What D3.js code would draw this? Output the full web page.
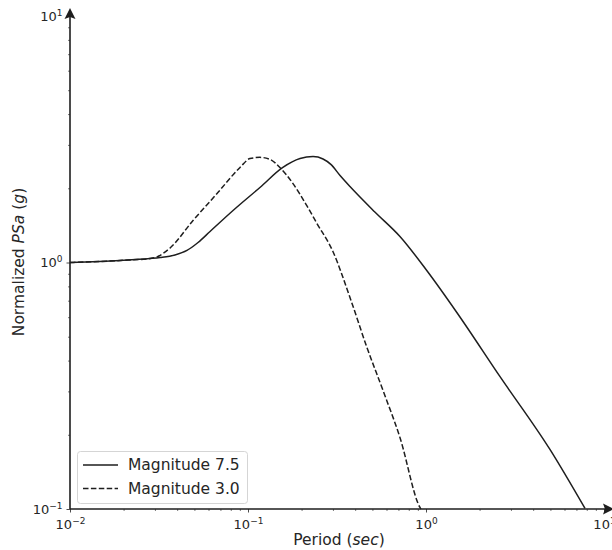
<!DOCTYPE html>
<html>
<head>
<meta charset="utf-8">
<script src="https://cdn.jsdelivr.net/npm/d3@7"></script>
<style>
  body { margin: 0; background: #fff; }
  svg { display: block; }
  text { font-family: "DejaVu Sans", sans-serif; fill: #262626; }
</style>
</head>
<body>
<svg id="chart" width="612" height="550"></svg>
<script>
// ---- data ----
const periodM75 = [0.01, 0.0191, 0.0281, 0.0321, 0.0389, 0.0454, 0.0524, 0.0612, 0.0824, 0.1167, 0.157, 0.196, 0.232, 0.264, 0.292, 0.329, 0.374, 0.516, 0.714, 1.01, 1.49, 2.60, 4.98, 7.82];
const psaM75    = [1.00, 1.019, 1.038, 1.048, 1.073, 1.119, 1.205, 1.336, 1.625, 2.015, 2.43, 2.64, 2.69, 2.63, 2.50, 2.254, 2.034, 1.603, 1.275, 0.928, 0.627, 0.345, 0.174, 0.1005];
const periodM30 = [0.01, 0.0191, 0.0281, 0.0308, 0.0333, 0.0365, 0.0491, 0.0670, 0.0902, 0.1026, 0.1167, 0.133, 0.151, 0.179, 0.214, 0.244, 0.300, 0.374, 0.466, 0.573, 0.714, 0.925, 0.937];
const psaM30    = [1.00, 1.019, 1.038, 1.053, 1.088, 1.145, 1.48, 1.905, 2.43, 2.64, 2.67, 2.62, 2.43, 2.09, 1.70, 1.44, 1.108, 0.721, 0.452, 0.303, 0.195, 0.1015, 0.1];
const seriesNames = ["Magnitude 7.5", "Magnitude 3.0"];
const xMajorTicks = [0.01, 0.1, 1, 10];
const xTickExp = ["\u22122", "\u22121", "0", "1"];
const yMajorTicks = [0.1, 1, 10];
const yTickExp = ["\u22121", "0", "1"];

const svg = d3.select("#chart");
const ink = "#1e1e1e";

const x = d3.scaleLog().domain([0.01, 10]).range([70, 604]);
const y = d3.scaleLog().domain([0.1, 10]).range([509, 16]);

function minorTicks(domain) {
  const out = [];
  const lo = Math.round(Math.log10(domain[0])), hi = Math.round(Math.log10(domain[1]));
  for (let e = lo; e < hi; e++) for (let k = 2; k <= 9; k++) out.push(k * Math.pow(10, e));
  return out;
}

// minor ticks
svg.append("g").attr("transform", "translate(0,509)")
  .call(d3.axisBottom(x).tickValues(minorTicks(x.domain())).tickSize(2).tickFormat(""))
  .call(g => g.select(".domain").remove())
  .call(g => g.selectAll("line").attr("stroke", ink).attr("stroke-width", 0.6));
svg.append("g").attr("transform", "translate(70,0)")
  .call(d3.axisLeft(y).tickValues(minorTicks(y.domain())).tickSize(2).tickFormat(""))
  .call(g => g.select(".domain").remove())
  .call(g => g.selectAll("line").attr("stroke", ink).attr("stroke-width", 0.6));

// major axes
const xAxis = svg.append("g").attr("transform", "translate(0,509)")
  .call(d3.axisBottom(x).tickValues(xMajorTicks).tickSize(3.5).tickSizeOuter(0).tickPadding(3).tickFormat(""));
xAxis.select(".domain").attr("stroke", ink).attr("stroke-width", 1.6).attr("d", "M70,0H606");
xAxis.selectAll("line").attr("stroke", ink).attr("stroke-width", 0.8);
xAxis.selectAll(".tick text").each(function(d, i) {
  const t = d3.select(this).attr("font-size", 13).attr("fill", "#262626").attr("dy", "1em").attr("font-family", "DejaVu Sans");
  t.append("tspan").text("10");
  t.append("tspan").attr("font-size", 9).attr("dy", "-0.55em").text(xTickExp[i]);
});

const yAxis = svg.append("g").attr("transform", "translate(70,0)")
  .call(d3.axisLeft(y).tickValues(yMajorTicks).tickSize(3.5).tickSizeOuter(0).tickPadding(4).tickFormat(""));
yAxis.select(".domain").attr("stroke", ink).attr("stroke-width", 1.6).attr("d", "M0,509V12");
yAxis.selectAll("line").attr("stroke", ink).attr("stroke-width", 0.8);
yAxis.selectAll(".tick text").each(function(d, i) {
  const t = d3.select(this).attr("font-size", 13).attr("fill", "#262626").attr("dy", "0.32em").attr("font-family", "DejaVu Sans");
  t.append("tspan").text("10");
  t.append("tspan").attr("font-size", 9).attr("dy", "-0.55em").text(yTickExp[i]);
});

// arrow heads
svg.append("path").attr("d", "M70,8 L75.5,19 L70,17 L64.5,19 Z").attr("fill", ink);
svg.append("path").attr("d", "M614,509 L603,514.5 L605,509 L603,503.5 Z").attr("fill", ink);

// lines
const line = d3.line().x(d => x(d[0])).y(d => y(d[1])).curve(d3.curveMonotoneX);
const d75 = periodM75.map((p, i) => [p, psaM75[i]]);
const d30 = periodM30.map((p, i) => [p, psaM30[i]]);

svg.append("path").datum(d30).attr("d", line)
  .attr("fill", "none").attr("stroke", ink).attr("stroke-width", 1.5).attr("stroke-dasharray", "5.5,2.4");
svg.append("path").datum(d75).attr("d", line)
  .attr("fill", "none").attr("stroke", ink).attr("stroke-width", 1.5);

// axis labels
const xl = svg.append("text").attr("x", 339).attr("y", 545).attr("text-anchor", "middle").attr("font-size", 15.5);
xl.append("tspan").text("Period (");
xl.append("tspan").attr("font-style", "italic").text("sec");
xl.append("tspan").text(")");

const yl = svg.append("text").attr("transform", "translate(24,262) rotate(-90)").attr("text-anchor", "middle").attr("font-size", 15.5);
yl.append("tspan").text("Normalized ");
yl.append("tspan").attr("font-style", "italic").text("PSa");
yl.append("tspan").text(" (");
yl.append("tspan").attr("font-style", "italic").text("g");
yl.append("tspan").text(")");

// legend
const lg = svg.append("g");
lg.append("rect").attr("x", 77.5).attr("y", 451.5).attr("width", 170).attr("height", 52).attr("rx", 3)
  .attr("fill", "#fff").attr("fill-opacity", 0.8).attr("stroke", "#d5d5d5").attr("stroke-width", 1);
seriesNames.forEach((name, i) => {
  const yy = 465 + i * 23.5;
  lg.append("line").attr("x1", 83).attr("x2", 118).attr("y1", yy).attr("y2", yy)
    .attr("stroke", ink).attr("stroke-width", 1.5).attr("stroke-dasharray", i === 1 ? "5.5,2.4" : null);
  lg.append("text").attr("x", 128).attr("y", yy).attr("dy", "0.35em").attr("font-size", 15.5).text(name);
});
</script>
</body>
</html>
